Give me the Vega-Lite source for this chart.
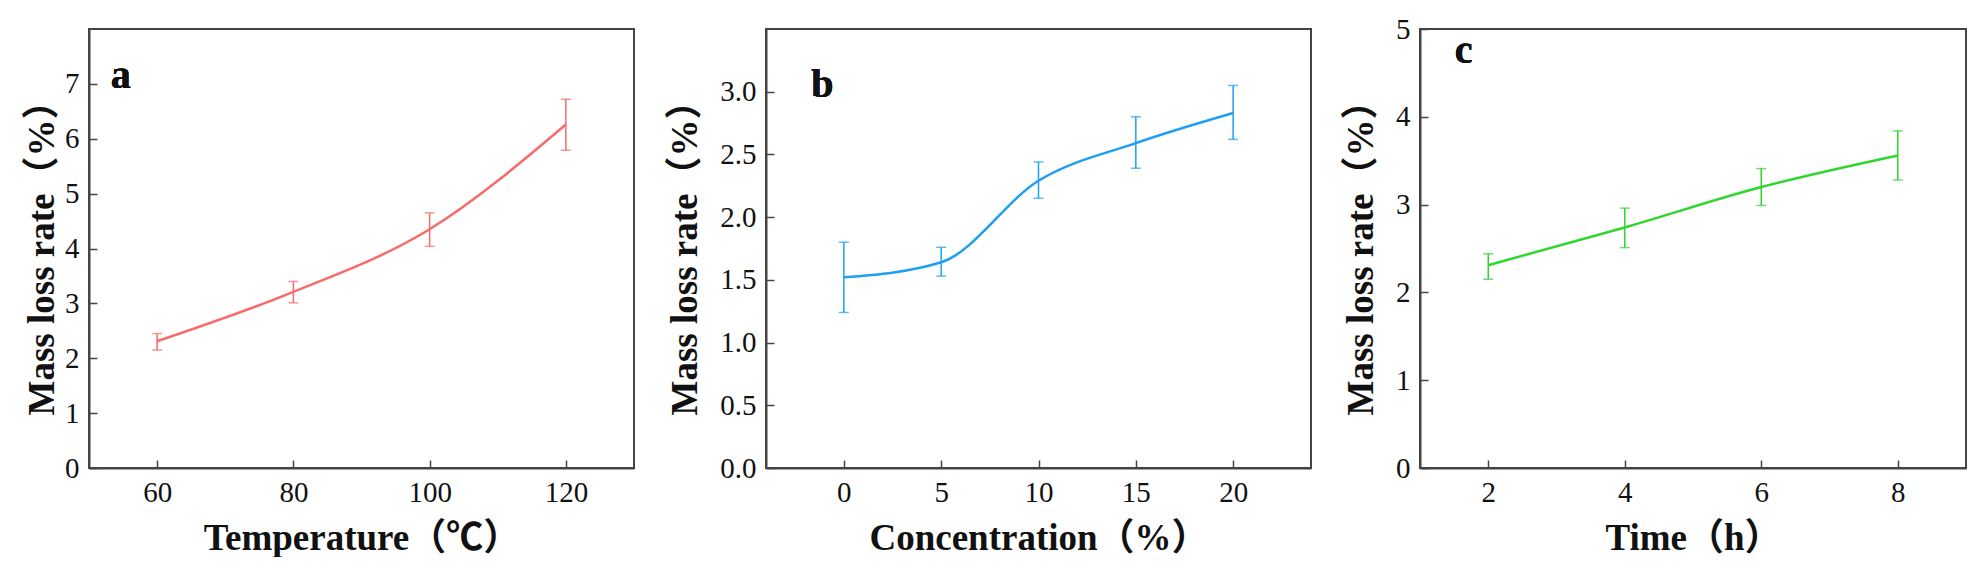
{
  "$schema": "https://vega.github.io/schema/vega-lite/v6.json",
  "background": "white",
  "padding": {"left": 22, "top": 14, "right": 0, "bottom": 0},
  "spacing": 29,
  "datasets": {
    "temp": [
      {"t": 60, "rate": 2.31, "lo": 2.15, "hi": 2.45},
      {"t": 80, "rate": 3.21, "lo": 3.01, "hi": 3.40},
      {"t": 100, "rate": 4.35, "lo": 4.04, "hi": 4.65},
      {"t": 120, "rate": 6.26, "lo": 5.79, "hi": 6.72}
    ],
    "conc": [
      {"c": 0, "rate": 1.52, "lo": 1.24, "hi": 1.80},
      {"c": 5, "rate": 1.64, "lo": 1.53, "hi": 1.76},
      {"c": 10, "rate": 2.29, "lo": 2.15, "hi": 2.44},
      {"c": 15, "rate": 2.59, "lo": 2.39, "hi": 2.80},
      {"c": 20, "rate": 2.83, "lo": 2.62, "hi": 3.05}
    ],
    "time": [
      {"h": 2, "rate": 2.31, "lo": 2.15, "hi": 2.44},
      {"h": 4, "rate": 2.74, "lo": 2.51, "hi": 2.96},
      {"h": 6, "rate": 3.20, "lo": 2.99, "hi": 3.41},
      {"h": 8, "rate": 3.56, "lo": 3.28, "hi": 3.84}
    ]
  },
  "hconcat": [
    {
      "width": 545,
      "height": 439,
      "data": {"name": "temp"},
      "layer": [
        {
          "mark": {"type": "line", "interpolate": "monotone", "color": "#F76B6B", "strokeWidth": 2.5},
          "encoding": {
            "x": {"field": "t", "type": "quantitative", "scale": {"domain": [50, 130]},
                  "axis": {"values": [60, 80, 100, 120], "format": "d", "title": "Temperature（℃）"}},
            "y": {"field": "rate", "type": "quantitative", "scale": {"domain": [0, 7.5]},
                  "axis": {"values": [0, 1, 2, 3, 4, 5, 6, 7], "format": "d", "title": "Mass loss rate（%）", "titleX": -36}}
          }
        },
        {
          "mark": {"type": "rule", "color": "#F76B6B", "strokeWidth": 1.5},
          "encoding": {
            "x": {"field": "t", "type": "quantitative"},
            "y": {"field": "lo", "type": "quantitative"},
            "y2": {"field": "hi"}
          }
        },
        {
          "mark": {"type": "tick", "orient": "horizontal", "size": 10, "thickness": 1.5, "color": "#F76B6B"},
          "encoding": {
            "x": {"field": "t", "type": "quantitative"},
            "y": {"field": "lo", "type": "quantitative"}
          }
        },
        {
          "mark": {"type": "tick", "orient": "horizontal", "size": 10, "thickness": 1.5, "color": "#F76B6B"},
          "encoding": {
            "x": {"field": "t", "type": "quantitative"},
            "y": {"field": "hi", "type": "quantitative"}
          }
        },
        {
          "mark": {"type": "text", "text": "a", "font": "Liberation Serif", "fontWeight": "bold", "fontSize": 40, "align": "left", "baseline": "alphabetic", "color": "#111"},
          "encoding": {"x": {"datum": 53.2}, "y": {"datum": 6.92}}
        }
      ]
    },
    {
      "width": 545,
      "height": 439,
      "data": {"name": "conc"},
      "layer": [
        {
          "mark": {"type": "line", "interpolate": "monotone", "color": "#1E9FF2", "strokeWidth": 2.5},
          "encoding": {
            "x": {"field": "c", "type": "quantitative", "scale": {"domain": [-2.5, 22.5]},
                  "axis": {"values": [0, 5, 10, 15, 20], "format": "d", "title": "Concentration（%）"}},
            "y": {"field": "rate", "type": "quantitative", "scale": {"domain": [0, 3.2]},
                  "axis": {"values": [0, 0.5, 1, 1.5, 2, 2.5, 3], "format": ".1f", "title": "Mass loss rate（%）", "titleX": -70}}
          }
        },
        {
          "mark": {"type": "rule", "color": "#1E9FF2", "strokeWidth": 1.5},
          "encoding": {
            "x": {"field": "c", "type": "quantitative"},
            "y": {"field": "lo", "type": "quantitative"},
            "y2": {"field": "hi"}
          }
        },
        {
          "mark": {"type": "tick", "orient": "horizontal", "size": 10, "thickness": 1.5, "color": "#1E9FF2"},
          "encoding": {
            "x": {"field": "c", "type": "quantitative"},
            "y": {"field": "lo", "type": "quantitative"}
          }
        },
        {
          "mark": {"type": "tick", "orient": "horizontal", "size": 10, "thickness": 1.5, "color": "#1E9FF2"},
          "encoding": {
            "x": {"field": "c", "type": "quantitative"},
            "y": {"field": "hi", "type": "quantitative"}
          }
        },
        {
          "mark": {"type": "text", "text": "b", "font": "Liberation Serif", "fontWeight": "bold", "fontSize": 40, "align": "left", "baseline": "alphabetic", "color": "#111"},
          "encoding": {"x": {"datum": -1.67}, "y": {"datum": 2.96}}
        }
      ]
    },
    {
      "width": 546,
      "height": 439,
      "data": {"name": "time"},
      "layer": [
        {
          "mark": {"type": "line", "interpolate": "monotone", "color": "#2ED62E", "strokeWidth": 2.5},
          "encoding": {
            "x": {"field": "h", "type": "quantitative", "scale": {"domain": [1, 9]},
                  "axis": {"values": [2, 4, 6, 8], "format": "d", "title": "Time（h）"}},
            "y": {"field": "rate", "type": "quantitative", "scale": {"domain": [0, 5]},
                  "axis": {"values": [0, 1, 2, 3, 4, 5], "format": "d", "title": "Mass loss rate（%）", "titleX": -48}}
          }
        },
        {
          "mark": {"type": "rule", "color": "#2ED62E", "strokeWidth": 1.5},
          "encoding": {
            "x": {"field": "h", "type": "quantitative"},
            "y": {"field": "lo", "type": "quantitative"},
            "y2": {"field": "hi"}
          }
        },
        {
          "mark": {"type": "tick", "orient": "horizontal", "size": 10, "thickness": 1.5, "color": "#2ED62E"},
          "encoding": {
            "x": {"field": "h", "type": "quantitative"},
            "y": {"field": "lo", "type": "quantitative"}
          }
        },
        {
          "mark": {"type": "tick", "orient": "horizontal", "size": 10, "thickness": 1.5, "color": "#2ED62E"},
          "encoding": {
            "x": {"field": "h", "type": "quantitative"},
            "y": {"field": "hi", "type": "quantitative"}
          }
        },
        {
          "mark": {"type": "text", "text": "c", "font": "Liberation Serif", "fontWeight": "bold", "fontSize": 40, "align": "left", "baseline": "alphabetic", "color": "#111"},
          "encoding": {"x": {"datum": 1.51}, "y": {"datum": 4.61}}
        }
      ]
    }
  ],
  "config": {
    "view": {"stroke": "#444", "strokeWidth": 2},
    "axis": {
      "grid": false,
      "domainColor": "#444",
      "domainWidth": 2,
      "tickColor": "#444",
      "tickWidth": 1.5,
      "tickSize": -8,
      "labelPadding": 18,
      "labelFont": "Liberation Serif",
      "labelFontSize": 29,
      "labelColor": "#111",
      "titleFont": "Liberation Serif, Noto Sans CJK SC",
      "titleFontWeight": "bold",
      "titleFontSize": 37,
      "titleColor": "#111",
      "titleBaseline": "alphabetic"
    },
    "axisX": {"titleY": 81},
    "axisY": {"labelBaseline": "middle"}
  }
}
